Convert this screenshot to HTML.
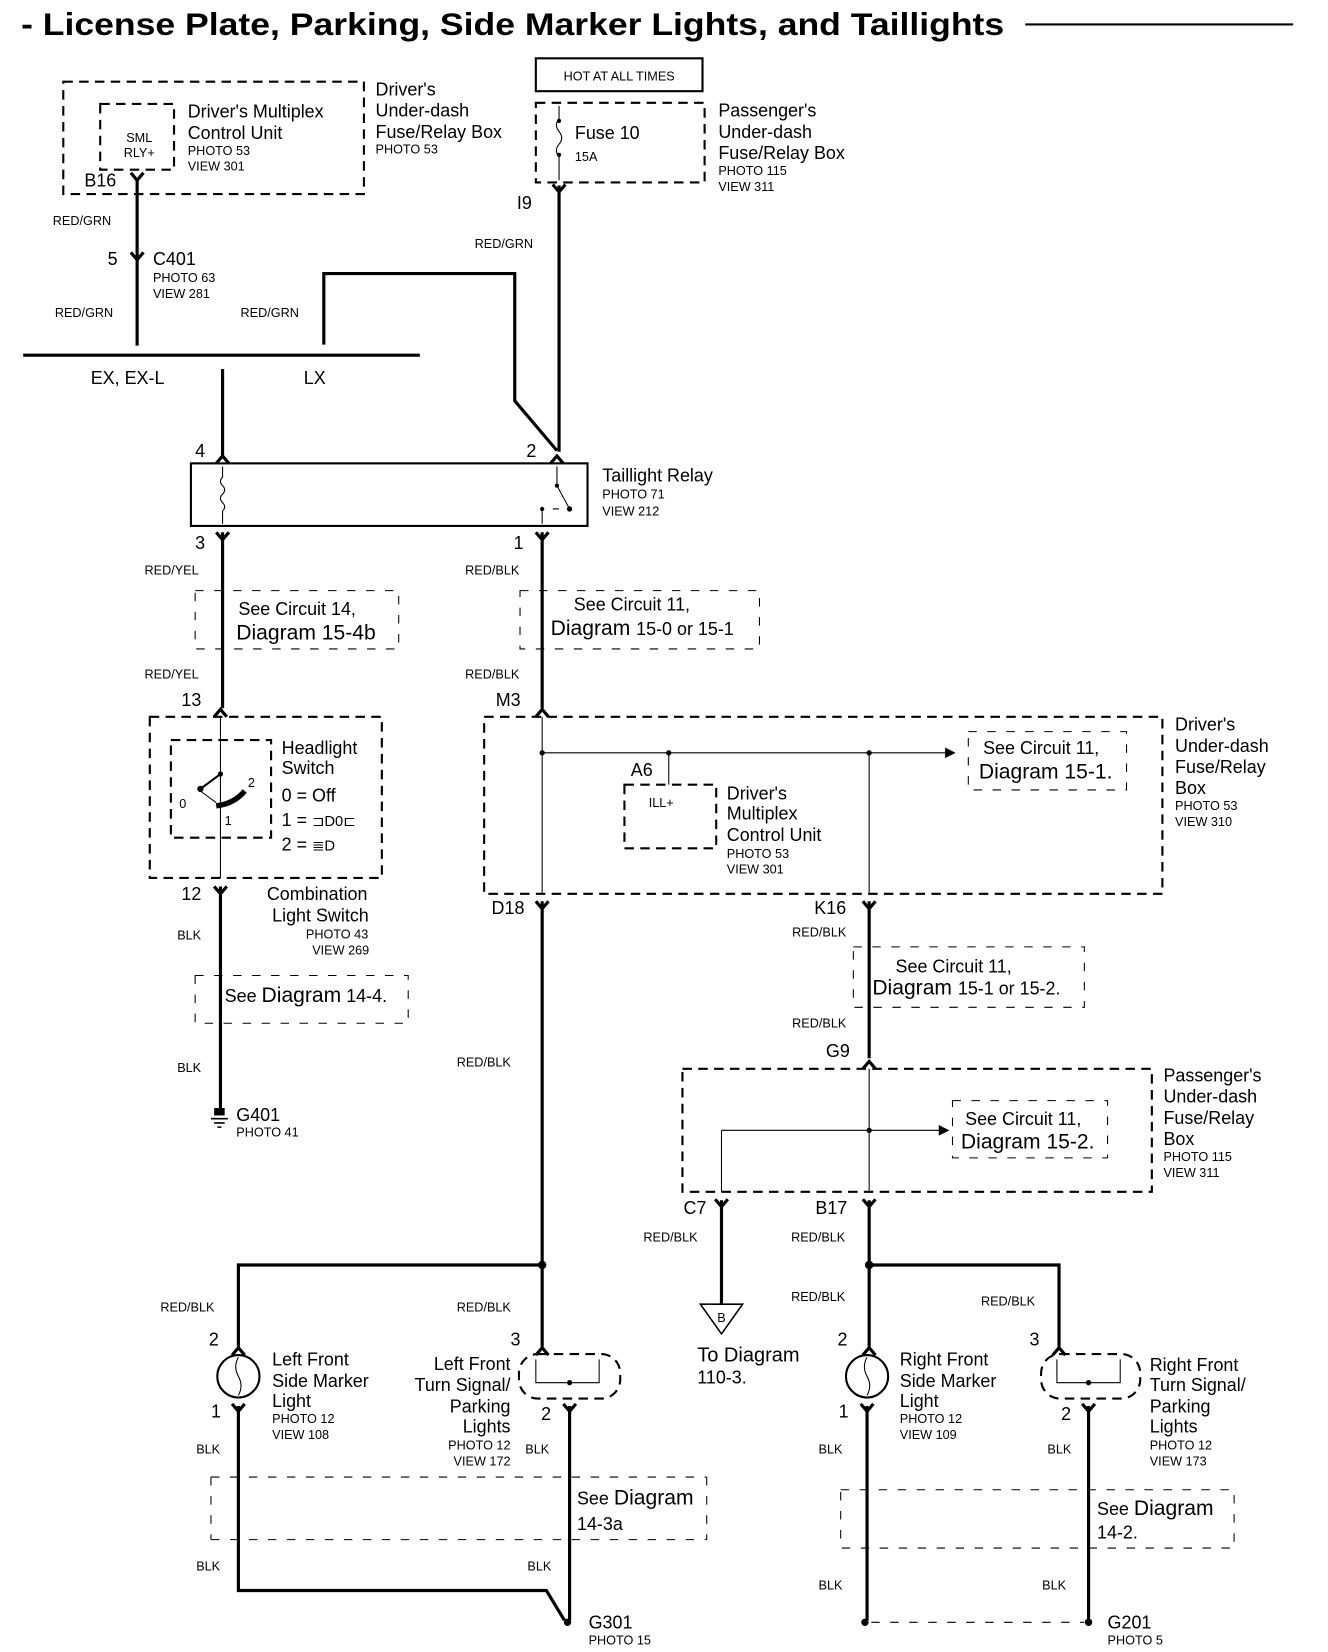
<!DOCTYPE html>
<html><head><meta charset="utf-8"><style>
html,body{margin:0;padding:0;background:#fff;}
svg{display:block;}
text{font-family:"Liberation Sans",Arial,sans-serif;fill:#000;}
.t{font-size:17px;}
.s{font-size:12px;}
.w{stroke:#000;stroke-width:3;fill:none;}
.thin{stroke:#000;stroke-width:1;fill:none;}
.d{stroke:#000;stroke-width:2;fill:none;stroke-dasharray:9 6;}
.dl{stroke:#000;stroke-width:1;fill:none;stroke-dasharray:8 10;}
</style></head><body>
<svg width="1328" height="1652" viewBox="0 0 1259 1558" preserveAspectRatio="none" xmlns="http://www.w3.org/2000/svg">
<!-- Title -->
<text x="20" y="33" font-size="30" font-weight="bold" textLength="932" lengthAdjust="spacingAndGlyphs">- License Plate, Parking, Side Marker Lights, and Taillights</text>
<line x1="972" y1="23" x2="1226" y2="23" stroke="#000" stroke-width="2"/>

<!-- Driver's under-dash box top -->
<rect x="60" y="77" width="285" height="106" class="d"/>
<rect x="95" y="98" width="70" height="62" class="d"/>
<text x="132" y="134" class="s" text-anchor="middle">SML</text>
<text x="132" y="148" class="s" text-anchor="middle">RLY+</text>
<text x="178" y="111" class="t">Driver's Multiplex</text>
<text x="178" y="131" class="t">Control Unit</text>
<text x="178" y="146" class="s">PHOTO 53</text>
<text x="178" y="161" class="s">VIEW 301</text>
<text x="356" y="90" class="t">Driver's</text>
<text x="356" y="110" class="t">Under-dash</text>
<text x="356" y="130" class="t">Fuse/Relay Box</text>
<text x="356" y="145" class="s">PHOTO 53</text>
<text x="80" y="176" class="t">B16</text>
<path class="w" d="M130 168 V326"/>
<path class="w" d="M124 163 L130 170 L136 163"/>
<text x="50" y="212" class="s">RED/GRN</text>
<path class="w" d="M124 238 L130 245 L136 238"/>
<text x="102" y="250" class="t">5</text>
<text x="145" y="250" class="t">C401</text>
<text x="145" y="266" class="s">PHOTO 63</text>
<text x="145" y="281" class="s">VIEW 281</text>
<text x="52" y="299" class="s">RED/GRN</text>

<!-- Hot at all times -->
<rect x="508" y="55" width="158" height="31" fill="none" stroke="#000" stroke-width="2"/>
<text x="587" y="76" class="s" text-anchor="middle">HOT AT ALL TIMES</text>
<rect x="508" y="97" width="160" height="75" class="d"/>
<path class="thin" d="M530 100 V112 q-5 6 0 12 q5 6 0 12 q-5 6 0 12 V170"/>
<circle cx="530" cy="114" r="2"/><circle cx="530" cy="146" r="2"/>
<text x="545" y="131" class="t">Fuse 10</text>
<text x="545" y="152" class="s">15A</text>
<text x="681" y="110" class="t">Passenger's</text>
<text x="681" y="130" class="t">Under-dash</text>
<text x="681" y="150" class="t">Fuse/Relay Box</text>
<text x="681" y="165" class="s">PHOTO 115</text>
<text x="681" y="180" class="s">VIEW 311</text>
<text x="490" y="197" class="t">I9</text>
<path class="w" d="M530 175 V426"/>
<path class="w" d="M524 174 L530 181 L536 174"/>
<text x="450" y="234" class="s">RED/GRN</text>

<!-- LX wire -->
<path class="w" d="M307 325 V258 H488 V378 L528 425"/>
<text x="228" y="299" class="s">RED/GRN</text>
<line x1="22" y1="335" x2="398" y2="335" stroke="#000" stroke-width="3"/>
<text x="86" y="362" class="t">EX, EX-L</text>
<text x="288" y="362" class="t">LX</text>
<path class="w" d="M211 348 V432"/>

<!-- Taillight relay -->
<text x="185" y="431" class="t">4</text>
<text x="499" y="431" class="t">2</text>
<path class="w" d="M205 437 L211 430 L217 437"/>
<path class="w" d="M522 437 L528 430 L534 437"/>
<rect x="181" y="437" width="376" height="59" fill="none" stroke="#000" stroke-width="2"/>
<path class="thin" d="M211 440 V450 q-4 4 0 8 q4 4 0 8 q-4 4 0 8 q4 4 0 8 V494"/>
<path class="thin" d="M528 440 V458 L540 480"/>
<circle cx="528" cy="458" r="2"/><circle cx="540" cy="480" r="2.5"/>
<circle cx="514" cy="480" r="2"/><path class="thin" d="M514 480 V494 M524 480 H530"/>
<text x="571" y="454" class="t">Taillight Relay</text>
<text x="571" y="470" class="s">PHOTO 71</text>
<text x="571" y="486" class="s">VIEW 212</text>
<text x="185" y="518" class="t">3</text>
<text x="487" y="518" class="t">1</text>
<path class="w" d="M211 502 V668 M514 502 V668"/>
<path class="w" d="M205 502 L211 509 L217 502 M508 502 L514 509 L520 502"/>
<text x="137" y="542" class="s">RED/YEL</text>
<text x="441" y="542" class="s">RED/BLK</text>
<rect x="185" y="557" width="193" height="55" class="dl"/>
<text x="226" y="580" class="t">See Circuit 14,</text>
<text x="224" y="603" font-size="20">Diagram 15-4b</text>
<rect x="493" y="557" width="227" height="55" class="dl"/>
<text x="544" y="576" class="t">See Circuit 11,</text>
<text x="522" y="599" font-size="20">Diagram <tspan font-size="17">15-0 or 15-1</tspan></text>
<text x="137" y="640" class="s">RED/YEL</text>
<text x="441" y="640" class="s">RED/BLK</text>
<text x="172" y="666" class="t">13</text>
<text x="470" y="666" class="t">M3</text>
<path class="w" d="M203 676 L209 669 L215 676 M508 676 L514 669 L520 676"/>

<!-- Headlight switch -->
<rect x="142" y="676" width="220" height="152" class="d"/>
<rect x="162" y="698" width="95" height="92" class="d"/>
<path class="thin" d="M209 676 V762 M209 762 V828"/>
<path stroke="#000" stroke-width="2" fill="none" d="M209 730 L190 744"/>
<circle cx="209" cy="730" r="2.5"/><circle cx="190" cy="744" r="3"/>
<path class="thin" d="M190 746 L205 757"/>
<path stroke="#000" stroke-width="5" fill="none" d="M205 760 Q222 758 232 746"/>
<text x="170" y="762" class="s">0</text>
<text x="213" y="778" class="s">1</text>
<text x="235" y="742" class="s">2</text>
<text x="267" y="711" class="t">Headlight</text>
<text x="267" y="730" class="t">Switch</text>
<text x="267" y="756" class="t">0 = Off</text>
<text x="267" y="779" class="t">1 = <tspan font-size="14">⊐D0⊏</tspan></text>
<text x="267" y="802" class="t">2 = <tspan font-size="14">≣D</tspan></text>
<text x="172" y="849" class="t">12</text>
<path class="w" d="M209 836 V1045 M203 836 L209 843 L215 836"/>
<text x="253" y="849" class="t">Combination</text>
<text x="258" y="869" class="t">Light Switch</text>
<text x="290" y="885" class="s">PHOTO 43</text>
<text x="296" y="900" class="s">VIEW 269</text>
<text x="168" y="886" class="s">BLK</text>
<rect x="185" y="920" width="202" height="45" class="dl"/>
<text x="213" y="945" class="t">See <tspan font-size="20">Diagram</tspan> 14-4.</text>
<text x="168" y="1011" class="s">BLK</text>
<path fill="#000" d="M203 1045 H213 V1052 H203 Z"/>
<path stroke="#000" stroke-width="1.5" d="M200 1055 H216 M203 1059 H213 M206 1063 H210"/>
<text x="224" y="1057" class="t">G401</text>
<text x="224" y="1072" class="s">PHOTO 41</text>

<!-- Driver's box 2 -->
<rect x="459" y="676" width="643" height="167" class="d"/>
<path class="thin" d="M514 676 V842 M514 710 H900 M634 710 V740 M824 710 V842"/>
<path fill="#000" d="M896 705 L906 710 L896 715 Z"/>
<circle cx="514" cy="710" r="2.5"/><circle cx="634" cy="710" r="2.5"/><circle cx="824" cy="710" r="2.5"/>
<text x="598" y="732" class="t">A6</text>
<rect x="592" y="740" width="87" height="60" class="d"/>
<text x="615" y="761" class="s">ILL+</text>
<text x="689" y="754" class="t">Driver's</text>
<text x="689" y="773" class="t">Multiplex</text>
<text x="689" y="793" class="t">Control Unit</text>
<text x="689" y="809" class="s">PHOTO 53</text>
<text x="689" y="824" class="s">VIEW 301</text>
<rect x="918" y="690" width="150" height="55" class="dl"/>
<text x="932" y="711" class="t">See Circuit 11,</text>
<text x="928" y="734" font-size="20">Diagram 15-1.</text>
<text x="1114" y="689" class="t">Driver's</text>
<text x="1114" y="709" class="t">Under-dash</text>
<text x="1114" y="729" class="t">Fuse/Relay</text>
<text x="1114" y="749" class="t">Box</text>
<text x="1114" y="764" class="s">PHOTO 53</text>
<text x="1114" y="779" class="s">VIEW 310</text>
<text x="466" y="862" class="t">D18</text>
<text x="772" y="862" class="t">K16</text>
<path class="w" d="M514 850 V1192 M508 850 L514 857 L520 850"/>
<path class="w" d="M824 850 V998 M818 850 L824 857 L830 850"/>
<text x="751" y="883" class="s">RED/BLK</text>
<rect x="809" y="893" width="219" height="57" class="dl"/>
<text x="849" y="917" class="t">See Circuit 11,</text>
<text x="827" y="938" font-size="20">Diagram <tspan font-size="17">15-1 or 15-2.</tspan></text>
<text x="751" y="969" class="s">RED/BLK</text>
<text x="783" y="997" class="t">G9</text>
<path class="w" d="M818 1008 L824 1001 L830 1008"/>
<text x="433" y="1006" class="s">RED/BLK</text>

<!-- Passenger box 2 -->
<rect x="647" y="1008" width="445" height="116" class="d"/>
<path class="thin" d="M824 1008 V1124 M684 1066 H892 M684 1066 V1124"/>
<path fill="#000" d="M890 1061 L900 1066 L890 1071 Z"/>
<circle cx="824" cy="1066" r="2.5"/>
<rect x="903" y="1038" width="147" height="54" class="dl"/>
<text x="915" y="1061" class="t">See Circuit 11,</text>
<text x="911" y="1083" font-size="20">Diagram 15-2.</text>
<text x="1103" y="1020" class="t">Passenger's</text>
<text x="1103" y="1040" class="t">Under-dash</text>
<text x="1103" y="1060" class="t">Fuse/Relay</text>
<text x="1103" y="1080" class="t">Box</text>
<text x="1103" y="1095" class="s">PHOTO 115</text>
<text x="1103" y="1110" class="s">VIEW 311</text>
<text x="648" y="1145" class="t">C7</text>
<text x="773" y="1145" class="t">B17</text>
<path class="w" d="M684 1132 V1230 M678 1131 L684 1138 L690 1131"/>
<path class="w" d="M824 1132 V1193 M818 1131 L824 1138 L830 1131"/>
<text x="610" y="1171" class="s">RED/BLK</text>
<text x="750" y="1171" class="s">RED/BLK</text>
<path fill="none" stroke="#000" stroke-width="1.5" d="M664 1230 H704 L684 1258 Z"/>
<text x="684" y="1247" class="s" text-anchor="middle">B</text>
<text x="661" y="1284" font-size="19">To Diagram</text>
<text x="661" y="1305" class="t">110-3.</text>

<!-- Left bottom -->
<path class="w" d="M514 1192 V1270 M514 1193 H226 V1270"/>
<circle cx="514" cy="1193" r="4"/>
<text x="152" y="1237" class="s">RED/BLK</text>
<text x="433" y="1237" class="s">RED/BLK</text>
<text x="198" y="1269" class="t">2</text>
<text x="484" y="1269" class="t">3</text>
<path class="w" d="M220 1278 L226 1271 L232 1278 M508 1278 L514 1271 L520 1278"/>
<circle cx="226" cy="1298" r="20" fill="none" stroke="#000" stroke-width="2"/>
<path class="thin" d="M226 1280 q-5 9 0 18 q5 9 0 18"/>
<rect x="492" y="1277" width="96" height="42" rx="18" class="d"/>
<path class="thin" d="M508 1282 V1304 H568 V1282"/><circle cx="540" cy="1304" r="2.5"/>
<text x="258" y="1288" class="t">Left Front</text>
<text x="258" y="1308" class="t">Side Marker</text>
<text x="258" y="1327" class="t">Light</text>
<text x="258" y="1342" class="s">PHOTO 12</text>
<text x="258" y="1357" class="s">VIEW 108</text>
<text x="484" y="1292" class="t" text-anchor="end">Left Front</text>
<text x="484" y="1312" class="t" text-anchor="end">Turn Signal/</text>
<text x="484" y="1332" class="t" text-anchor="end">Parking</text>
<text x="484" y="1351" class="t" text-anchor="end">Lights</text>
<text x="484" y="1367" class="s" text-anchor="end">PHOTO 12</text>
<text x="484" y="1382" class="s" text-anchor="end">VIEW 172</text>
<text x="200" y="1337" class="t">1</text>
<text x="513" y="1339" class="t">2</text>
<path class="w" d="M220 1324 L226 1331 L232 1324 M534 1324 L540 1331 L546 1324"/>
<path class="w" d="M226 1326 V1500 H518 L535 1528"/>
<path class="w" d="M540 1326 V1528"/>
<circle cx="538" cy="1530" r="3.5"/>
<text x="186" y="1371" class="s">BLK</text>
<text x="498" y="1371" class="s">BLK</text>
<path class="dl" d="M200 1393 H670 M200 1452 H670 M200 1393 V1452 M670 1393 V1452"/>
<text x="547" y="1419" class="t">See <tspan font-size="20">Diagram</tspan></text>
<text x="547" y="1443" class="t">14-3a</text>
<text x="186" y="1481" class="s">BLK</text>
<text x="500" y="1481" class="s">BLK</text>
<text x="558" y="1536" class="t">G301</text>
<text x="558" y="1551" class="s">PHOTO 15</text>

<!-- Right bottom -->
<path class="w" d="M824 1193 V1270 M824 1193 H1004 V1270"/>
<circle cx="824" cy="1193" r="4"/>
<text x="750" y="1227" class="s">RED/BLK</text>
<text x="930" y="1231" class="s">RED/BLK</text>
<text x="794" y="1269" class="t">2</text>
<text x="976" y="1269" class="t">3</text>
<path class="w" d="M818 1278 L824 1271 L830 1278 M998 1278 L1004 1271 L1010 1278"/>
<circle cx="822" cy="1298" r="20" fill="none" stroke="#000" stroke-width="2"/>
<path class="thin" d="M822 1280 q-5 9 0 18 q5 9 0 18"/>
<rect x="987" y="1277" width="94" height="42" rx="18" class="d"/>
<path class="thin" d="M1002 1282 V1304 H1062 V1282"/><circle cx="1032" cy="1304" r="2.5"/>
<text x="853" y="1288" class="t">Right Front</text>
<text x="853" y="1308" class="t">Side Marker</text>
<text x="853" y="1327" class="t">Light</text>
<text x="853" y="1342" class="s">PHOTO 12</text>
<text x="853" y="1357" class="s">VIEW 109</text>
<text x="1090" y="1293" class="t">Right Front</text>
<text x="1090" y="1312" class="t">Turn Signal/</text>
<text x="1090" y="1332" class="t">Parking</text>
<text x="1090" y="1351" class="t">Lights</text>
<text x="1090" y="1367" class="s">PHOTO 12</text>
<text x="1090" y="1382" class="s">VIEW 173</text>
<text x="795" y="1337" class="t">1</text>
<text x="1006" y="1339" class="t">2</text>
<path class="w" d="M816 1324 L822 1331 L828 1324 M1026 1324 L1032 1331 L1038 1324"/>
<path class="w" d="M822 1326 V1528 M1032 1326 V1528"/>
<circle cx="820" cy="1530" r="3.5"/><circle cx="1032" cy="1530" r="3.5"/>
<path class="dl" d="M826 1530 H1028"/>
<text x="776" y="1371" class="s">BLK</text>
<text x="993" y="1371" class="s">BLK</text>
<rect x="797" y="1405" width="373" height="55" class="dl"/>
<text x="1040" y="1429" class="t">See <tspan font-size="20">Diagram</tspan></text>
<text x="1040" y="1451" class="t">14-2.</text>
<text x="776" y="1499" class="s">BLK</text>
<text x="988" y="1499" class="s">BLK</text>
<text x="1050" y="1536" class="t">G201</text>
<text x="1050" y="1551" class="s">PHOTO 5</text>
</svg>
</body></html>
